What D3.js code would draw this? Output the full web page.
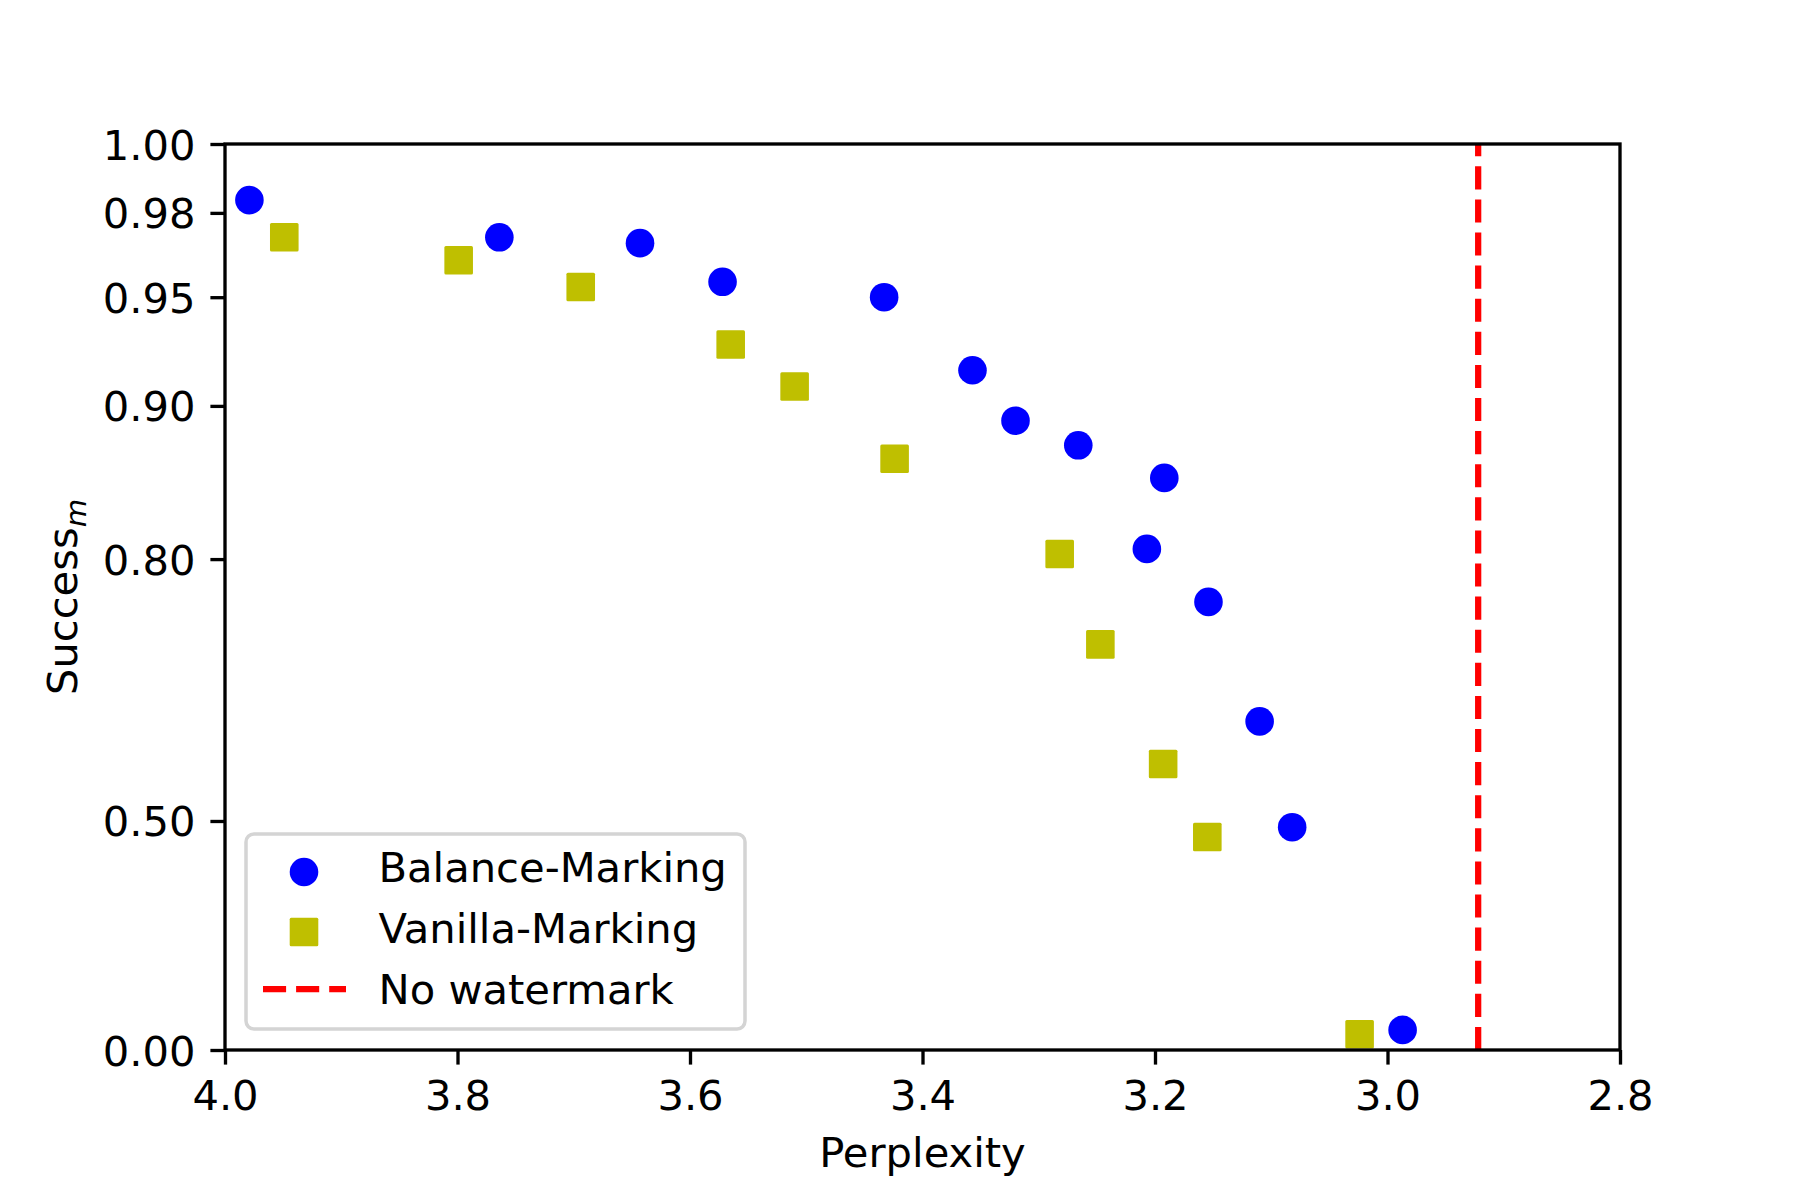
<!DOCTYPE html>
<html>
<head>
<meta charset="utf-8">
<script src="https://cdn.jsdelivr.net/npm/d3@7"></script>
<style>
  html, body { margin: 0; padding: 0; background: #fff; }
  svg { display: block; }
  text { font-family: "DejaVu Sans", sans-serif; }
</style>
</head>
<body>
<svg id="chart" width="1800" height="1200"></svg>
<script>
// ---- data ----
const balancePerplexity = [3.979, 3.764, 3.643, 3.572, 3.433, 3.357, 3.320, 3.266, 3.192, 3.207, 3.154, 3.110, 3.082, 2.987];
const balanceSuccess    = [0.984, 0.972, 0.970, 0.956, 0.950, 0.918, 0.892, 0.878, 0.858, 0.808, 0.764, 0.639, 0.490, 0.057];
const vanillaPerplexity = [3.949, 3.799, 3.694, 3.565, 3.510, 3.424, 3.282, 3.247, 3.193, 3.155, 3.024];
const vanillaSuccess    = [0.972, 0.964, 0.954, 0.930, 0.910, 0.870, 0.804, 0.724, 0.584, 0.474, 0.045];
const noWatermarkPerplexity = 2.922;
const xTicks = [4.0, 3.8, 3.6, 3.4, 3.2, 3.0, 2.8];
const yTicks = [0.00, 0.50, 0.80, 0.90, 0.95, 0.98, 1.00];
const legendLabels = ["Balance-Marking", "Vanilla-Marking", "No watermark"];

// ---- layout ----
const L = 225, R = 1620, T = 144, B = 1050;
const FS = 41.67;
const svg = d3.select("#chart");

const x = d3.scaleLinear().domain([4.0, 2.8]).range([L, R]);
// custom scale: position linear in -log(1.1 - y)
const yLog = d3.scaleLog().domain([1.1, 0.1]).range([B, T]);
const y = v => yLog(1.1 - v);

// axes
const xAxis = d3.axisBottom(x).tickValues(xTicks).tickFormat(d => d.toFixed(1))
  .tickSizeInner(14.6).tickSizeOuter(0).tickPadding(10);
const gx = svg.append("g").attr("transform", `translate(0,${B})`).call(xAxis);
gx.select(".domain").remove();
gx.selectAll(".tick line").attr("stroke", "#000").attr("stroke-width", 3.33);
gx.selectAll(".tick text").attr("font-size", FS).attr("font-family", "DejaVu Sans").attr("fill", "#000")
  .attr("dy", null).attr("y", 60);

const yAxis = d3.axisLeft(yLog).tickValues(yTicks.map(t => 1.1 - t)).tickFormat(d => (1.1 - d).toFixed(2))
  .tickSizeInner(14.6).tickSizeOuter(0).tickPadding(14.6);
const gy = svg.append("g").attr("transform", `translate(${L},0)`).call(yAxis);
gy.select(".domain").remove();
gy.selectAll(".tick line").attr("stroke", "#000").attr("stroke-width", 3.33);
gy.selectAll(".tick text").attr("font-size", FS).attr("font-family", "DejaVu Sans").attr("fill", "#000")
  .attr("x", -(L - 195.5)).attr("dy", "0.36em");

// no watermark line (dash starts at bottom)
svg.append("line")
  .attr("x1", x(noWatermarkPerplexity)).attr("x2", x(noWatermarkPerplexity))
  .attr("y1", B).attr("y2", T)
  .attr("stroke", "#ff0000").attr("stroke-width", 6.25).attr("stroke-dasharray", "23.1,10");

// markers
const MS = 28.6;
svg.append("g").selectAll("rect").data(vanillaPerplexity.map((p, i) => [p, vanillaSuccess[i]])).join("rect")
  .attr("x", d => x(d[0]) - MS / 2).attr("y", d => y(d[1]) - MS / 2)
  .attr("width", MS).attr("height", MS).attr("rx", 1.5)
  .attr("fill", "#bfbf00");
svg.append("g").selectAll("circle").data(balancePerplexity.map((p, i) => [p, balanceSuccess[i]])).join("circle")
  .attr("cx", d => x(d[0])).attr("cy", d => y(d[1])).attr("r", MS / 2)
  .attr("fill", "#0000ff");

// frame
svg.append("rect").attr("x", L).attr("y", T).attr("width", R - L).attr("height", B - T)
  .attr("fill", "none").attr("stroke", "#000").attr("stroke-width", 3.33).attr("stroke-linecap", "square");

// axis labels
svg.append("text").attr("x", (L + R) / 2).attr("y", 1167).attr("text-anchor", "middle")
  .attr("font-size", FS).attr("fill", "#000").text("Perplexity");
const yl = svg.append("text").attr("transform", `translate(77,${(T + B) / 2}) rotate(-90)`)
  .attr("text-anchor", "middle").attr("font-size", FS).attr("fill", "#000");
yl.append("tspan").text("Success");
yl.append("tspan").attr("font-size", FS * 0.7).attr("font-style", "italic").attr("dy", 9).text("m");

// legend
const lg = svg.append("g");
lg.append("rect").attr("x", 246).attr("y", 834).attr("width", 499).attr("height", 195)
  .attr("rx", 8).attr("fill", "#fff").attr("fill-opacity", 0.8)
  .attr("stroke", "#d4d4d4").attr("stroke-width", 3.5);
const rowY = [872, 932, 989];
const baseY = [882, 943, 1004];
lg.append("circle").attr("cx", 304).attr("cy", rowY[0]).attr("r", MS / 2).attr("fill", "#0000ff");
lg.append("rect").attr("x", 304 - MS / 2).attr("y", rowY[1] - MS / 2).attr("width", MS).attr("height", MS)
  .attr("rx", 1.5).attr("fill", "#bfbf00");
lg.append("line").attr("x1", 263).attr("x2", 346).attr("y1", rowY[2]).attr("y2", rowY[2])
  .attr("stroke", "#ff0000").attr("stroke-width", 6.25).attr("stroke-dasharray", "23.1,10");
legendLabels.forEach((t, i) => {
  lg.append("text").attr("x", 378.5).attr("y", baseY[i]).attr("font-size", FS).attr("fill", "#000").text(t);
});
</script>
</body>
</html>
